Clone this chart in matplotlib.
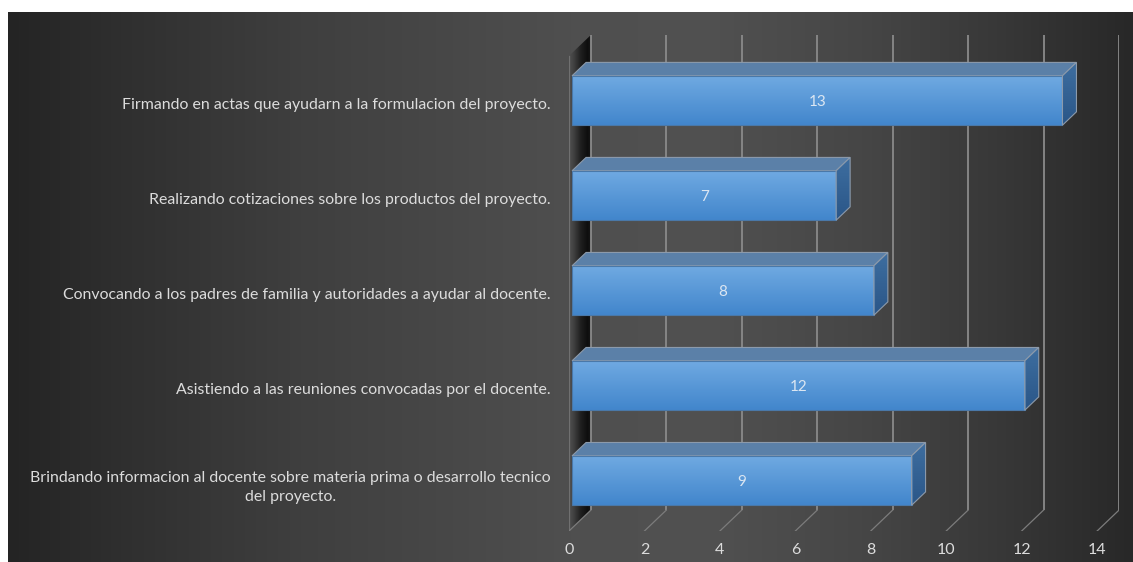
import numpy as np
import matplotlib
matplotlib.use("Agg")
import matplotlib.pyplot as plt
from matplotlib.patches import Polygon

# ---- data -------------------------------------------------------------
categories = [
    "Brindando informacion al docente sobre materia prima o desarrollo tecnico\ndel proyecto.",
    "Asistiendo a las reuniones convocadas por el docente.",
    "Convocando a los padres de familia y autoridades a ayudar al docente.",
    "Realizando cotizaciones sobre los productos del proyecto.",
    "Firmando en actas que ayudarn a la formulacion del proyecto.",
]
values = [9, 12, 8, 7, 13]
x_ticks = [0, 2, 4, 6, 8, 10, 12, 14]

# ---- style / geometry -------------------------------------------------
W, H, DPI = 1133, 562, 100
FONT = ["Liberation Sans Narrow", "Lato", "DejaVu Sans"]
XMAX = 14
DX, DY = 0.58, 0.22          # depth offset of the 3D box in data units
F1, F2 = 0.14, 0.78          # front / back depth fraction of each bar
BAR_H = 0.52
TEXT_COL = "#dcdcdc"
GRID_COL = "#8a8a8a"


def gray_strip(levels):
    """Turn a 1-D array of gray levels (0..1) into a 2-row RGB image."""
    row = np.stack([levels, levels, levels], axis=-1)[None, :, :]
    return row.repeat(2, axis=0)


fig = plt.figure(figsize=(W / DPI, H / DPI), dpi=DPI, facecolor="white")

# dark panel with a soft horizontal gradient
bg = fig.add_axes([8 / W, 0, 1 - 8 / W, (H - 12) / H], zorder=0)
t = np.linspace(0, 1, 600)
g = np.interp(t, [0, 0.1, 0.26, 0.5, 0.62, 0.76, 0.88, 1.0],
              [36, 47, 63, 79, 81, 70, 56, 40]) / 255.0
bg.imshow(gray_strip(g), aspect="auto", extent=[0, 1, 0, 1], interpolation="bilinear")
bg.set_axis_off()

# plot area (front plane + depth)
left, right, top, bottom = 569, 1119, 35, 531
ax = fig.add_axes([left / W, (H - bottom) / H, (right - left) / W, (bottom - top) / H],
                  zorder=1)
ax.patch.set_alpha(0)
ys = np.arange(len(categories))
y0, y1 = -0.5, len(categories) - 0.5

# left wall with depth shading
wall = Polygon([(0, y0), (DX, y0 + DY), (DX, y1 + DY), (0, y1)], closed=True,
               facecolor="none", edgecolor="none")
ax.add_patch(wall)
wg = np.interp(np.linspace(0, 1, 64), [0, 0.2, 0.55, 0.85, 1.0],
               [80, 66, 30, 14, 24]) / 255.0
wim = ax.imshow(gray_strip(wg), aspect="auto",
                extent=[0, DX, y0, y1 + DY], interpolation="bilinear", zorder=1)
wim.set_clip_path(wall)
ax.plot([0, 0], [y0, y1], color="#707070", lw=0.9, zorder=1.5)

# back-wall gridlines and floor diagonals
for k in x_ticks:
    ax.plot([k + DX, k + DX], [y0 + DY, y1 + DY], color=GRID_COL, lw=1.3,
            zorder=2, solid_capstyle="butt")
    ax.plot([k + DX, k], [y0 + DY, y0], color="#7c7c7c", lw=0.9, zorder=2)

# 3D bars
front_top = np.array([112, 170, 226]) / 255
front_bot = np.array([66, 134, 204]) / 255
side_top = np.array([62, 110, 160]) / 255
side_bot = np.array([42, 86, 136]) / 255
top_col = "#5b80a8"
edge_col = "#8c9aab"
grad = np.linspace(0, 1, 64)[:, None]

for y, v in zip(ys, values):
    yb = y - BAR_H / 2
    yt = y + BAR_H / 2
    x_f0, x_f1 = F1 * DX, v + F1 * DX
    x_b1 = v + F2 * DX
    # front face with vertical gradient
    cols = front_top * (1 - grad) + front_bot * grad
    ax.imshow(cols[:, None, :], aspect="auto", interpolation="bilinear",
              extent=[x_f0, x_f1, yb + F1 * DY, yt + F1 * DY], zorder=4)
    ax.add_patch(Polygon([(x_f0, yb + F1 * DY), (x_f1, yb + F1 * DY),
                          (x_f1, yt + F1 * DY), (x_f0, yt + F1 * DY)],
                         closed=True, facecolor="none", edgecolor="#4a78a8",
                         lw=0.8, zorder=5))
    # top face
    ax.add_patch(Polygon([(x_f0, yt + F1 * DY), (x_f1, yt + F1 * DY),
                          (x_b1, yt + F2 * DY), (F2 * DX, yt + F2 * DY)],
                         closed=True, facecolor=top_col, edgecolor=edge_col,
                         lw=0.8, zorder=4))
    # right face with gradient
    side = Polygon([(x_f1, yb + F1 * DY), (x_b1, yb + F2 * DY),
                    (x_b1, yt + F2 * DY), (x_f1, yt + F1 * DY)],
                   closed=True, facecolor="none", edgecolor=edge_col, lw=0.8, zorder=5)
    ax.add_patch(side)
    scols = side_top * (1 - grad) + side_bot * grad
    sim = ax.imshow(scols[:, None, :], aspect="auto", interpolation="bilinear",
                    extent=[x_f1, x_b1, yb + F1 * DY, yt + F2 * DY], zorder=4)
    sim.set_clip_path(side)
    # value label
    ax.text((x_f0 + x_f1) / 2, y + F1 * DY - 0.02, f"{v}", ha="center", va="center",
            color="#dbe6f2", fontsize=11, family=FONT, zorder=6)

ax.set_xlim(0, XMAX + DX)
ax.set_ylim(y0, y1 + DY)
for s in ax.spines.values():
    s.set_visible(False)

ax.set_xticks(x_ticks)
ax.set_xticklabels([str(k) for k in x_ticks], family=FONT, fontsize=11.5)
ax.set_yticks(ys)

# category labels sized to the width of the longest single line
renderer = fig.canvas.get_renderer()
probe = fig.text(0, 0, categories[4], fontsize=10, family=FONT)
w = probe.get_window_extent(renderer).width
probe.remove()
cat_size = 10 * 431 / w
ax.set_yticklabels(categories, family=FONT, fontsize=cat_size, linespacing=1.45)
ax.get_yticklabels()[0].set_multialignment("center")
ax.tick_params(axis="both", length=0, colors=TEXT_COL)
ax.tick_params(axis="x", pad=9)
ax.tick_params(axis="y", pad=13)

fig.savefig("out.png", dpi=DPI, facecolor="white")
